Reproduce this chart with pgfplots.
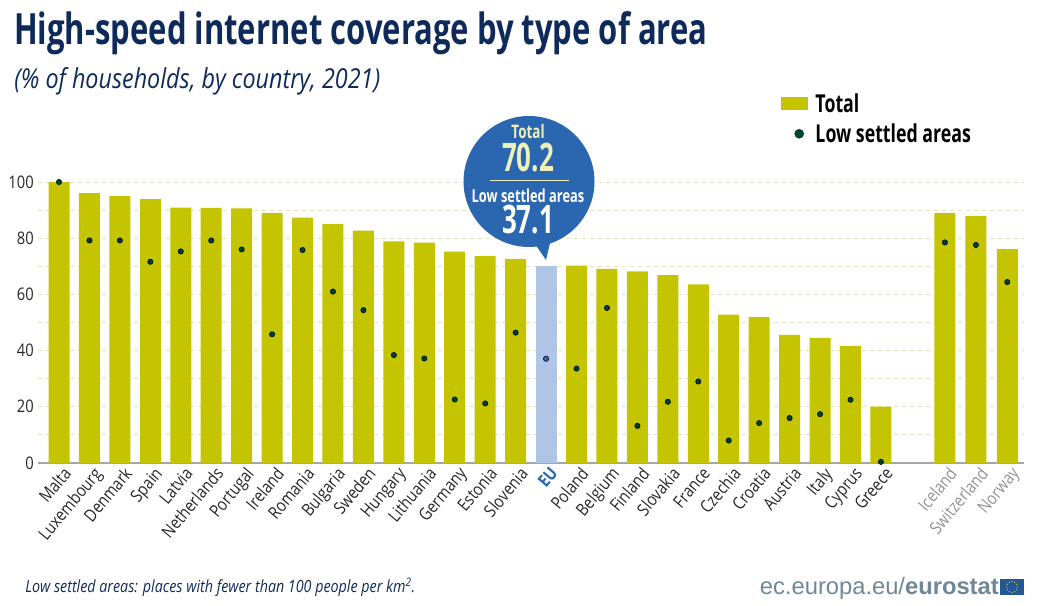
\documentclass[border=0pt]{standalone}
\usepackage{pgfplots}
\usepackage{pgfplotstable}
\usepackage{fontspec}
\pgfplotsset{compat=1.18}
\setmainfont{Open Sans}[FakeStretch=0.85]
\newfontfamily\condfont{Open Sans}[FakeStretch=0.72]
\newfontfamily\tallfont{Open Sans}[FakeStretch=0.66]
\newfontfamily\logofont{Liberation Sans}
\definecolor{barolive}{HTML}{C5C400}
\definecolor{eubar}{HTML}{B0C4E6}
\definecolor{dotgreen}{HTML}{00403A}
\definecolor{eublue}{HTML}{2A67B0}
\definecolor{gridcol}{HTML}{E2E4B8}
\definecolor{navy}{HTML}{0E2A5A}
\definecolor{nonEU}{HTML}{929292}
\definecolor{logogrey}{HTML}{6F8796}
\definecolor{paleyellow}{HTML}{EEF0B8}

\pgfplotstableread{
x total low
0 100 100
1 96 79.2
2 95 79.2
3 93.9 71.6
4 90.9 75.3
5 90.8 79.2
6 90.6 76
7 88.9 45.8
8 87.3 75.8
9 85 61
10 82.7 54.4
11 78.9 38.4
12 78.4 37.2
13 75.2 22.6
14 73.6 21.2
15 72.6 46.4
17 70.2 33.6
18 69.1 55.2
19 68.2 13.2
20 66.9 21.8
21 63.6 29
22 52.8 8
23 51.9 14.2
24 45.6 16
25 44.5 17.4
26 41.7 22.5
27 20.1 0.4
29.1 88.9 78.5
30.12 87.9 77.6
31.15 76.1 64.4
}\countries
\pgfplotstableread{
x total low
16 70.2 37.1
}\eurow

\begin{document}
\begin{tikzpicture}
\path[use as bounding box] (0,0) rectangle (783.75pt,454.5pt);
\begin{axis}[
    at={(28.5pt,107.25pt)}, anchor=south west,
    scale only axis,
    width=739.5pt, height=210.75pt,
    xmin=-0.69, xmax=31.7,
    ymin=0, ymax=100,
    clip=false,
    axis x line*=bottom, axis y line*=left,
    y axis line style={draw=none},
    x axis line style={-, draw=black!35, line width=1pt},
    major tick length=0pt,
    ymajorgrids,
    grid style={gridcol, dashed, line width=0.6pt},
    ytick={0,10,...,100},
    yticklabels={0,,20,,40,,60,,80,,100},
    /pgf/number format/assume math mode=true,
    yticklabel style={font=\fontsize{13}{13}\selectfont, text=black!85, inner sep=3pt},
    xtick={0,1,...,27,29.1,30.12,31.15},
    xticklabels={Malta,Luxembourg,Denmark,Spain,Latvia,Netherlands,Portugal,Ireland,Romania,Bulgaria,Sweden,Hungary,Lithuania,Germany,Estonia,Slovenia,\textcolor{eublue}{\textbf{EU}},Poland,Belgium,Finland,Slovakia,France,Czechia,Croatia,Austria,Italy,Cyprus,Greece,\textcolor{nonEU}{Iceland},\textcolor{nonEU}{Switzerland},\textcolor{nonEU}{Norway}},
    xticklabel style={rotate=50, anchor=north east, font=\fontsize{13}{13}\selectfont, text=black!85, inner sep=2pt, xshift=2pt, yshift=-1pt},
    bar shift=0pt,
    legend style={at={(0.7535,1.325)}, anchor=north west, draw=none, fill=none, inner sep=0pt, outer sep=0pt,
        font=\condfont\bfseries\fontsize{18.5}{19}\selectfont, row sep=3pt},
    legend cell align=left,
]
\addplot[ybar, bar width=15.75pt, fill=barolive, draw=none,
    legend image code/.code={\fill[barolive] (0pt,-4.9pt) rectangle (20.25pt,4.9pt); \path (23.5pt,0pt);}]
    table[x=x, y=total] {\countries};
\addlegendentry{Total}
\addplot[ybar, bar width=15.75pt, fill=eubar, draw=none, forget plot]
    table[x=x, y=total] {\eurow};
\addplot[only marks, mark=*, mark size=2pt, mark options={fill=dotgreen, draw=none},
    legend image code/.code={\fill[dotgreen] (13.5pt,0pt) circle (3.4pt); \path (0pt,0pt) (23.5pt,0pt);}]
    table[x=x, y=low] {\countries};
\addlegendentry{Low settled areas}
\addplot[only marks, mark=*, mark size=2pt, mark options={fill=eublue, draw=none}, forget plot]
    table[x=x, y=low] {\eurow};
\end{axis}

% title, callout and footer in reference pixels, origin top left
\begin{scope}[x=0.75pt, y=-0.75pt, yshift=454.5pt]
\node[anchor=west, inner sep=0pt, text=navy, font=\condfont\bfseries\fontsize{32.3}{34}\selectfont] at (14,33) {High-speed internet coverage by type of area};
\node[anchor=west, inner sep=0pt, text=navy, font=\itshape\fontsize{20.6}{22}\selectfont] at (14,81) {(\% of households, by country, 2021)};

\fill[eublue] (529,181.5) circle (65.5);
\fill[eublue] (535,244) -- (546,260) -- (550,243) -- cycle;
\draw[paleyellow, line width=0.6pt] (490,180.5) -- (569,180.5);
\node[text=paleyellow, inner sep=0pt, font=\condfont\bfseries\fontsize{14}{15}\selectfont] at (528,132) {Total};
\node[text=paleyellow, inner sep=0pt, font=\tallfont\bfseries\fontsize{29.5}{30}\selectfont] at (528,158) {70.2};
\node[text=white, inner sep=0pt, font=\condfont\bfseries\fontsize{13.4}{14}\selectfont] at (528,196) {Low settled areas};
\node[text=white, inner sep=0pt, font=\tallfont\bfseries\fontsize{29.5}{30}\selectfont] at (528,220) {37.1};

\node[anchor=west, inner sep=0pt, text=navy, font=\itshape\fontsize{12.6}{14}\selectfont] at (25,587) {Low settled areas: places with fewer than 100 people per km\textsuperscript{2}.};
\node[anchor=base east, inner sep=0pt, text=logogrey, font=\logofont\fontsize{17.8}{20}\selectfont] at (999,595) {ec.europa.eu/\textbf{eurostat}};
\fill[eublue!85!black] (1000,579) rectangle (1024,595);
\foreach \a in {0,30,...,330} \fill[yellow!80!orange] (1012,587) ++(\a:5.5) circle (0.7);
\end{scope}
\end{tikzpicture}
\end{document}
